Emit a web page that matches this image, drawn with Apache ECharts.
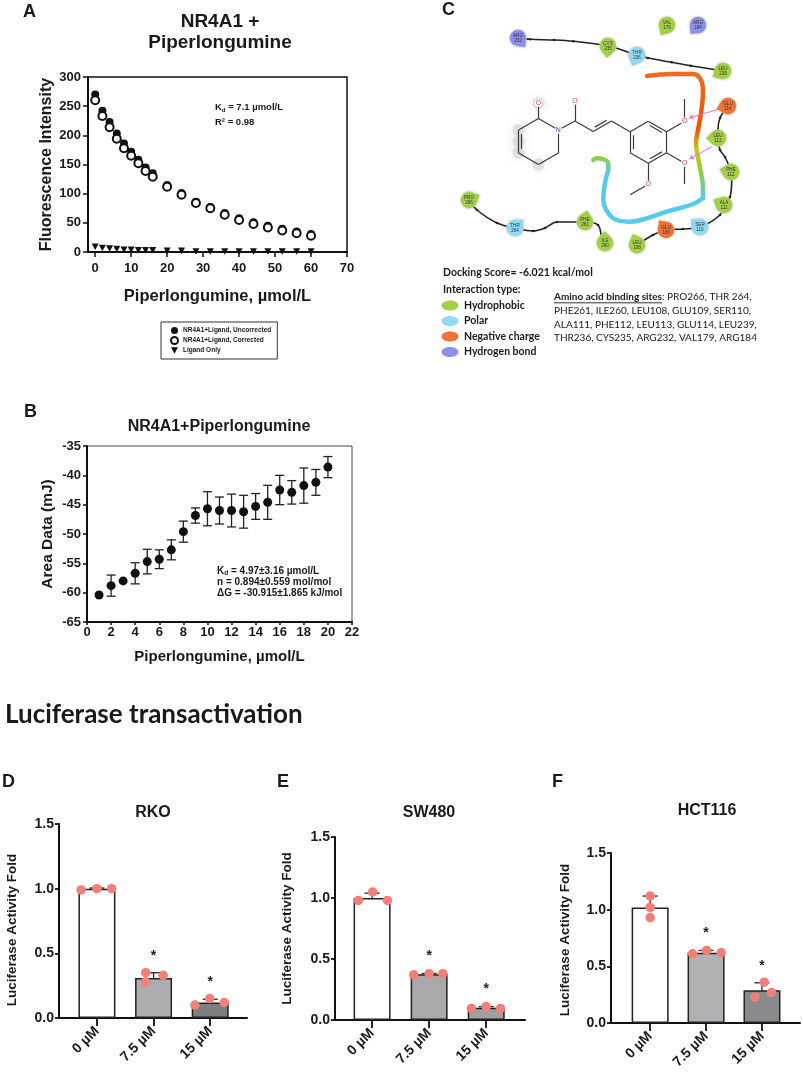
<!DOCTYPE html>
<html>
<head>
<meta charset="utf-8">
<script src="https://cdn.jsdelivr.net/npm/echarts@6/dist/echarts.min.js"></script>
<style>
html, body { margin: 0; padding: 0; background: #fff; }
#main { width: 803px; height: 1073px; }
</style>
</head>
<body>
<div id="main"></div>
<script>
// ---------- panel A: fluorescence quenching ----------
var concA = [0, 2, 4, 6, 8, 10, 12, 14, 16, 20, 24, 28, 32, 36, 40, 44, 48, 52, 56, 60];
var uncorrected = [270, 242, 223, 203, 186, 172, 158, 145, 135, 115, 101, 86, 77, 67, 58, 51, 45, 40, 35, 31];
var corrected = [260, 233, 214, 194, 178, 165, 152, 139, 129, 112, 98, 84, 75, 64, 55, 48, 42, 37, 32, 28];
var ligandOnly = [9, 7, 6, 5, 4, 4, 3, 3, 3, 2, 2, 1, 1, 1, 1, 1, 1, 1, 1, 1];
var ticksAx = [0, 10, 20, 30, 40, 50, 60, 70];

// ---------- panel B: ITC ----------
var concB = [1, 2, 3, 4, 5, 6, 7, 8, 9, 10, 11, 12, 13, 14, 15, 16, 17, 18, 19, 20];
var areaB = [-60.4, -58.8, -58.0, -56.7, -54.7, -54.3, -52.7, -49.6, -46.85, -45.7, -46.0, -46.0, -46.2, -45.3, -44.6, -42.5, -42.9, -41.75, -41.2, -38.6];
var areaSdB = [0, 1.8, 0, 1.8, 2.1, 1.6, 1.7, 1.8, 1.3, 2.9, 2.3, 2.8, 2.8, 2.2, 2.9, 2.5, 2.0, 3.0, 2.2, 1.8];

// ---------- panel C: docking diagram (panel-local units) ----------
var resNames = ['ARG', 'CYS', 'THR', 'LEU', 'VAL', 'ARG', 'GLU', 'LEU', 'PHE', 'ALA', 'SER', 'GLU', 'LEU', 'PHE', 'ILE', 'THR', 'PRO'];
var resNums = [232, 235, 236, 239, 179, 184, 114, 113, 112, 111, 110, 109, 108, 261, 260, 264, 266];
var resTypes = ['hbond', 'hydrophobic', 'polar', 'hydrophobic', 'hydrophobic', 'hbond', 'negative', 'hydrophobic',
  'hydrophobic', 'hydrophobic', 'polar', 'negative', 'hydrophobic', 'hydrophobic', 'hydrophobic', 'polar', 'hydrophobic'];
var resXY = [[118, 38], [208, 46], [237, 55], [323, 71], [267, 25], [298, 25], [328, 106], [318, 138], [331, 172],
  [324, 205], [300, 227], [266, 230], [237, 245], [185, 222], [205, 243], [115, 228], [69, 200]];
var chain1 = [[118, 38], [130, 39.3], [154, 40], [173.3, 41.3], [208, 46], [237, 55], [248, 58], [271.7, 62.3], [290.7, 65.7], [323, 71]];
var chain2 = [[69, 200], [77, 210], [97, 223], [115, 228], [133, 231], [145, 228], [157, 222], [185, 222], [198, 225], [202, 238], [205, 243]];
var chain3 = [[237, 245], [253, 235], [266, 230], [283, 229], [300, 227], [320, 215], [324, 205], [330, 197], [331.7, 180], [331, 172],
  [325, 157], [320, 150], [318, 138], [318, 130], [320, 118], [328, 106]];
var pocketTop = [[247, 76], [270, 74], [293, 74], [301, 80], [303, 92], [301, 113], [298, 130], [296, 143], [298, 157], [301, 173], [303, 187], [303, 198]];
var pocketLow = [[303, 198], [293, 204], [266.7, 211.7], [246.7, 218.3], [230, 221.7], [216.7, 220], [208.3, 213.3], [203.3, 200], [205, 183], [208.3, 170]];
var pocketTail = [[208.3, 170], [208.3, 163.3], [203.3, 159.3], [196.7, 158.3], [193.3, 160]];
var atomXY = {
  O1: [138.5, 103], C2: [138.5, 118.5], N1: [158.4, 130], C6: [158.4, 153], C5: [138.5, 164.5], C4: [118.6, 153], C3: [118.6, 130],
  C7: [175, 121], O2: [175, 101], C8: [193.2, 131.5], C9: [211.4, 121], C10: [230.1, 131.7], C11: [248.3, 121.2], C12: [266.5, 131.7],
  C13: [266.5, 152.7], C14: [248.3, 163.2], C15: [230.1, 152.7], O3: [284.7, 121.2], M3: [284.7, 99], O4: [284.7, 163.2],
  M4: [284.7, 184], O5: [248.3, 184.2], M5: [230.1, 194.7]
};
var ringA = [138.5, 141.5], ringB = [248.3, 142.2];
var bonds = [['C2', 'O1', 1], ['C2', 'N1', 1], ['N1', 'C6', 1], ['C6', 'C5', 1], ['C5', 'C4', 1], ['C4', 'C3', 2, ringA], ['C3', 'C2', 1],
  ['N1', 'C7', 1], ['C7', 'O2', 1], ['C7', 'C8', 1], ['C8', 'C9', 2, [200, 100]], ['C9', 'C10', 1],
  ['C10', 'C11', 1], ['C11', 'C12', 2, ringB], ['C12', 'C13', 1], ['C13', 'C14', 2, ringB], ['C14', 'C15', 1], ['C15', 'C10', 2, ringB],
  ['C12', 'O3', 1], ['O3', 'M3', 1], ['C13', 'O4', 1], ['O4', 'M4', 1], ['C14', 'O5', 1], ['O5', 'M5', 1]];
var heteroAtoms = ['O1', 'O2', 'O3', 'O4', 'O5', 'N1'];
var haloAtoms = [[138.5, 103], [118.6, 130], [118.6, 141.5], [118.6, 153], [138.5, 164.5]];
var hBonds = [[[321.7, 108.3], [289, 118]], [[311.7, 146.7], [289.5, 159]]];
var ligCenter = [200, 140];
var aminoLines = ['PHE261, ILE260, LEU108, GLU109, SER110,', 'ALA111, PHE112, LEU113, GLU114, LEU239,', 'THR236, CYS235, ARG232, VAL179, ARG184'];
var interactionTypes = ['Hydrophobic', 'Polar', 'Negative charge', 'Hydrogen bond'];

// ---------- panels D-F: luciferase ----------
var doses = ['0 µM', '7.5 µM', '15 µM'];
var rkoMean = [1.00, 0.31, 0.12];
var rkoSd = [0.005, 0.04, 0.025];
var rkoReps = [[0.99, 1.00, 1.00], [0.35, 0.28, 0.33], [0.10, 0.15, 0.12]];
var swMean = [1.00, 0.375, 0.10];
var swSd = [0.04, 0.006, 0.01];
var swReps = [[0.98, 1.05, 0.98], [0.37, 0.38, 0.38], [0.095, 0.11, 0.095]];
var hctMean = [1.02, 0.62, 0.29];
var hctSd = [0.10, 0.02, 0.065];
var hctReps = [[1.12, 1.02, 0.93], [0.61, 0.64, 0.62], [0.36, 0.23, 0.27]];
var starred = [false, true, true];

var FONT = '"Liberation Sans", Arial, Helvetica, sans-serif';
var CAL = 'Lato, "Open Sans", sans-serif';
var INK = '#1a1a1a';

var chart = echarts.init(document.getElementById('main'));

function bold(size) {
  return {fontFamily: FONT, fontWeight: 'bold', fontSize: size, color: INK};
}

function errorBars(capW, both) {
  return function (params, api) {
    var x = api.value(0), y = api.value(1), e = api.value(2);
    if (!e) return null;
    var hi = api.coord([x, y + e]), lo = api.coord([x, both ? y - e : y]);
    var st = {stroke: '#222', lineWidth: 1.3};
    var kids = [
      {type: 'line', shape: {x1: hi[0], y1: hi[1], x2: lo[0], y2: lo[1]}, style: st},
      {type: 'line', shape: {x1: hi[0] - capW / 2, y1: hi[1], x2: hi[0] + capW / 2, y2: hi[1]}, style: st}
    ];
    if (both) kids.push({type: 'line', shape: {x1: lo[0] - capW / 2, y1: lo[1], x2: lo[0] + capW / 2, y2: lo[1]}, style: st});
    return {type: 'group', children: kids};
  };
}

function txt(x, y, text, font, align, fill) {
  return {type: 'text', x: x, y: y, z: 20, silent: true,
    style: {text: text, font: font, fill: fill || INK, align: align || 'left', verticalAlign: 'middle'}};
}

var grids = [], xAxes = [], yAxes = [], series = [], graphics = [];

// ===== A =====
grids.push({left: 88, top: 77, width: 259, height: 175, show: true, borderColor: '#111', borderWidth: 1.5});
xAxes.push({gridIndex: 0, type: 'value', min: -2, max: 70,
  axisLine: {onZero: false, lineStyle: {color: '#111', width: 2}},
  axisTick: {customValues: ticksAx, length: 5, lineStyle: {color: '#111', width: 1.5}},
  axisLabel: Object.assign({customValues: ticksAx, margin: 10}, bold(13)),
  splitLine: {show: false},
  name: 'Piperlongumine, µmol/L', nameLocation: 'middle', nameGap: 36, nameTextStyle: bold(16.5)});
yAxes.push({gridIndex: 0, type: 'value', min: 0, max: 300, interval: 50,
  axisLine: {show: true, onZero: false, lineStyle: {color: '#111', width: 2}},
  axisTick: {show: true, length: 5, lineStyle: {color: '#111', width: 1.5}},
  axisLabel: Object.assign({margin: 7}, bold(13)),
  splitLine: {show: false},
  name: 'Fluorescence Intensity', nameLocation: 'middle', nameGap: 33, nameTextStyle: bold(16)});

function pairs(xs, ys) { return xs.map(function (x, i) { return [x, ys[i]]; }); }

series.push({name: 'NR4A1+Ligand, Uncorrected', type: 'scatter', xAxisIndex: 0, yAxisIndex: 0,
  data: pairs(concA, uncorrected), symbol: 'circle', symbolSize: 8, itemStyle: {color: '#111', opacity: 1}, z: 3});
series.push({name: 'NR4A1+Ligand, Corrected', type: 'scatter', xAxisIndex: 0, yAxisIndex: 0,
  data: pairs(concA, corrected), symbol: 'emptyCircle', symbolSize: 8, itemStyle: {color: '#111', borderWidth: 1.6, opacity: 1}, z: 4});
series.push({name: 'Ligand Only', type: 'scatter', xAxisIndex: 0, yAxisIndex: 0,
  data: pairs(concA, ligandOnly), symbol: 'path://M0,0L10,0L5,9Z', symbolSize: [7, 6.5], itemStyle: {color: '#111', opacity: 1}, z: 3});

graphics.push(txt(23, 12, 'A', 'bold 18px ' + FONT));
graphics.push(txt(220, 22, 'NR4A1 +', 'bold 19px ' + FONT, 'center'));
graphics.push(txt(220, 43, 'Piperlongumine', 'bold 19px ' + FONT, 'center'));
var kdRich = {
  m: {fontFamily: FONT, fontWeight: 'bold', fontSize: 9.5, fill: INK, lineHeight: 12},
  s: {fontFamily: FONT, fontWeight: 'bold', fontSize: 6, fill: INK, lineHeight: 12, verticalAlign: 'bottom'}
};
graphics.push({type: 'text', x: 215, y: 107, z: 20, style: {text: '{m|K}{s|d}{m| = 7.1 µmol/L}', rich: kdRich, verticalAlign: 'middle'}});
graphics.push(txt(215, 122, 'R² = 0.98', 'bold 9.5px ' + FONT));

// ===== B =====
grids.push({left: 87, top: 446, width: 265, height: 176, show: true, borderColor: '#444', borderWidth: 1});
xAxes.push({gridIndex: 1, type: 'value', min: 0, max: 22, interval: 2,
  axisLine: {onZero: false, lineStyle: {color: '#111', width: 2}},
  axisTick: {length: 3, lineStyle: {color: '#111', width: 1.5}},
  axisLabel: Object.assign({margin: 4}, bold(13)),
  splitLine: {show: false},
  name: 'Piperlongumine, µmol/L', nameLocation: 'middle', nameGap: 27, nameTextStyle: bold(15)});
yAxes.push({gridIndex: 1, type: 'value', min: -65, max: -35, interval: 5,
  axisLine: {show: true, onZero: false, lineStyle: {color: '#111', width: 2}},
  axisTick: {show: true, length: 4, lineStyle: {color: '#111', width: 1.5}},
  axisLabel: Object.assign({margin: 6}, bold(13)),
  splitLine: {show: false},
  name: 'Area Data (mJ)', nameLocation: 'middle', nameGap: 31, nameTextStyle: bold(15.5)});
series.push({type: 'custom', xAxisIndex: 1, yAxisIndex: 1, z: 3,
  data: concB.map(function (x, i) { return [x, areaB[i], areaSdB[i]]; }),
  encode: {x: 0, y: 1}, renderItem: errorBars(9, true)});
series.push({type: 'scatter', xAxisIndex: 1, yAxisIndex: 1, z: 4, data: pairs(concB, areaB),
  symbol: 'circle', symbolSize: 9, itemStyle: {color: '#111', opacity: 1}});

graphics.push(txt(24, 412, 'B', 'bold 18px ' + FONT));
graphics.push(txt(219, 427, 'NR4A1+Piperlongumine', 'bold 16px ' + FONT, 'center'));
var kdRichB = {
  m: {fontFamily: FONT, fontWeight: 'bold', fontSize: 10, fill: INK, lineHeight: 12},
  s: {fontFamily: FONT, fontWeight: 'bold', fontSize: 6.5, fill: INK, lineHeight: 12, verticalAlign: 'bottom'}
};
graphics.push({type: 'text', x: 217, y: 571, z: 20, style: {text: '{m|K}{s|d}{m| = 4.97±3.16 µmol/L}', rich: kdRichB, verticalAlign: 'middle'}});
graphics.push(txt(217, 582, 'n = 0.894±0.559 mol/mol', 'bold 10px ' + FONT));
graphics.push(txt(217, 593, 'ΔG = -30.915±1.865 kJ/mol', 'bold 10px ' + FONT));

// ===== C =====
grids.push({left: 400, top: 0, width: 403, height: 370});
xAxes.push({gridIndex: 2, type: 'value', min: 0, max: 403, show: false});
yAxes.push({gridIndex: 2, type: 'value', min: 0, max: 370, inverse: true, show: false});

var typeColor = {hydrophobic: '#a3d044', polar: '#92d9f3', negative: '#ef7434', hbond: '#8e8ef0'};
var C = {xAxisIndex: 2, yAxisIndex: 2};

series.push(Object.assign({type: 'scatter', z: 1, silent: true, data: haloAtoms, symbolSize: 12,
  itemStyle: {color: 'rgba(185,185,185,0.35)', opacity: 1, shadowBlur: 8, shadowColor: 'rgba(130,130,130,0.55)'}}, C));

[chain1, chain2, chain3].forEach(function (ch) {
  series.push(Object.assign({type: 'line', z: 2, silent: true, data: ch, smooth: 0.35, symbol: 'circle', symbolSize: 2.6,
    showSymbol: true, itemStyle: {color: '#222'}, lineStyle: {color: '#222', width: 1.6}}, C));
});

series.push(Object.assign({type: 'line', z: 2, silent: true, data: pocketTop, smooth: 0.4, showSymbol: false,
  lineStyle: {width: 4.5, cap: 'round', color: new echarts.graphic.LinearGradient(0, 0, 0, 1, [
    {offset: 0, color: '#f46a1c'}, {offset: 0.45, color: '#f05500'}, {offset: 0.6, color: '#c9c61f'},
    {offset: 0.78, color: '#8fd03a'}, {offset: 1, color: '#57c8ee'}])}}, C));
series.push(Object.assign({type: 'line', z: 2, silent: true, data: pocketLow, smooth: 0.4, showSymbol: false,
  lineStyle: {width: 4.5, cap: 'round', color: '#57c8ee'}}, C));
series.push(Object.assign({type: 'line', z: 2, silent: true, data: pocketTail, smooth: 0.4, showSymbol: false,
  lineStyle: {width: 4.5, cap: 'round', color: new echarts.graphic.LinearGradient(0, 1, 0, 0, [
    {offset: 0, color: '#57c8ee'}, {offset: 1, color: '#98cf2e'}])}}, C));

var bondLines = [];
bonds.forEach(function (b) {
  var p = atomXY[b[0]], q = atomXY[b[1]];
  bondLines.push({coords: [p, q]});
  if (b[2] === 2) {
    var t = b[3];
    var dx = q[0] - p[0], dy = q[1] - p[1], len = Math.sqrt(dx * dx + dy * dy);
    var nx = -dy / len, ny = dx / len;
    var mx = (p[0] + q[0]) / 2, my = (p[1] + q[1]) / 2;
    if ((t[0] - mx) * nx + (t[1] - my) * ny < 0) { nx = -nx; ny = -ny; }
    var off = 3, sh = 0.17;
    bondLines.push({coords: [[p[0] + dx * sh + nx * off, p[1] + dy * sh + ny * off],
      [q[0] - dx * sh + nx * off, q[1] - dy * sh + ny * off]]});
  }
});
series.push(Object.assign({type: 'lines', coordinateSystem: 'cartesian2d', z: 3, silent: true, data: bondLines,
  lineStyle: {color: '#3a3a3a', width: 1.2, opacity: 1}}, C));
series.push(Object.assign({type: 'lines', coordinateSystem: 'cartesian2d', z: 4, silent: true,
  data: hBonds.map(function (h) { return {coords: h}; }), symbol: ['none', 'arrow'], symbolSize: 4.5,
  lineStyle: {color: '#e36cf2', width: 1, opacity: 1}}, C));
series.push(Object.assign({type: 'scatter', z: 5, silent: true, symbolSize: 7.5,
  data: heteroAtoms.map(function (a) {
    return {value: [atomXY[a][0], atomXY[a][1], a.charAt(0)],
      label: {color: a.charAt(0) === 'N' ? '#3b3be6' : '#e6433d'}};
  }),
  itemStyle: {color: '#fff', opacity: 1},
  label: {show: true, position: 'inside', formatter: function (p) { return p.value[2]; }, fontFamily: FONT, fontSize: 7}}, C));

var tear = 'path://M10,0L20,0L20,10A10,10,0,1,1,10,0Z';
series.push(Object.assign({type: 'scatter', z: 6, silent: true, symbol: tear, symbolSize: 17,
  data: resXY.map(function (p, i) {
    var dx = ligCenter[0] - p[0], dy = ligCenter[1] - p[1];
    var rot = Math.atan2(-dy, dx) * 180 / Math.PI - 45;
    return {value: [p[0], p[1], resNames[i] + '\n' + resNums[i]], symbolRotate: rot,
      itemStyle: {color: typeColor[resTypes[i]]}};
  }),
  itemStyle: {opacity: 1, borderColor: 'rgba(255,255,255,0.7)', borderWidth: 0.6, shadowBlur: 2, shadowColor: 'rgba(0,0,0,0.25)'},
  label: {show: true, position: 'inside', formatter: function (p) { return p.value[2]; },
    fontFamily: FONT, fontSize: 4.6, lineHeight: 5.2, color: '#333'}}, C));

graphics.push(txt(442, 10, 'C', 'bold 18px ' + FONT));
graphics.push(txt(443, 273, 'Docking Score= -6.021 kcal/mol', 'bold 10.5px ' + CAL));
graphics.push(txt(443, 290, 'Interaction type:', 'bold 10.5px ' + CAL));
var legendColors = [typeColor.hydrophobic, typeColor.polar, typeColor.negative, typeColor.hbond];
interactionTypes.forEach(function (t, i) {
  var cy = 305.5 + i * 15.5;
  graphics.push({type: 'ellipse', z: 20, silent: true, shape: {cx: 450, cy: cy, rx: 8.5, ry: 5}, style: {fill: legendColors[i]}});
  graphics.push(txt(464, cy, t, 'bold 10.5px ' + CAL));
});
var measure = document.createElement('canvas').getContext('2d');
measure.font = 'bold 10px ' + CAL;
var ulW = measure.measureText('Amino acid binding sites').width;
graphics.push({type: 'text', x: 554, y: 297, z: 20, silent: true, style: {
  text: '{b|Amino acid binding sites}{r|: PRO266, THR 264,}', verticalAlign: 'middle',
  rich: {b: {fontFamily: CAL, fontWeight: 'bold', fontSize: 10, fill: INK},
    r: {fontFamily: CAL, fontSize: 10, fill: INK}}}});
graphics.push({type: 'line', z: 20, silent: true, shape: {x1: 554, y1: 302.8, x2: 554 + ulW, y2: 302.8}, style: {stroke: INK, lineWidth: 0.9}});
aminoLines.forEach(function (l, i) {
  graphics.push(txt(554, 311 + i * 13.6, l, '10px ' + CAL));
});

// ===== luciferase title =====
graphics.push(txt(5, 715, 'Luciferase transactivation', 'bold 26px ' + CAL));

// ===== D, E, F =====
var lucData = [
  {title: 'RKO', mean: rkoMean, sd: rkoSd, reps: rkoReps},
  {title: 'SW480', mean: swMean, sd: swSd, reps: swReps},
  {title: 'HCT116', mean: hctMean, sd: hctSd, reps: hctReps}
];
var lucLayout = [
  {letter: 'D', lx: 2, grid: {left: 59, top: 824, width: 188, height: 194}, xr: [-0.67, 2.65], gap: 40, shift: 18, tx: 153, ty: 813,
    colors: ['#ffffff', '#adadaf', '#7f7f81'], jit: [[-0.28, 0, 0.26], [-0.14, -0.14, 0.17], [-0.27, -0.01, 0.25]]},
  {letter: 'E', lx: 277, grid: {left: 335, top: 837, width: 190, height: 183}, xr: [-0.65, 2.68], gap: 41, shift: 0, tx: 429, ty: 813,
    colors: ['#ffffff', '#a9a9ab', '#a0a0a2'], jit: [[-0.24, 0.01, 0.27], [-0.27, 0, 0.24], [-0.26, 0, 0.25]]},
  {letter: 'F', lx: 552, grid: {left: 611, top: 853, width: 189, height: 170}, xr: [-0.70, 2.68], gap: 39, shift: 4, tx: 707, ty: 811,
    colors: ['#ffffff', '#b1b1b3', '#8a8a8c'], jit: [[0, 0, 0], [-0.24, 0.01, 0.27], [0.04, -0.125, 0.17]]}
];

lucData.forEach(function (d, k) {
  var L = lucLayout[k], gi = 3 + k;
  grids.push(L.grid);
  xAxes.push({gridIndex: gi, type: 'value', min: L.xr[0], max: L.xr[1],
    axisLine: {onZero: false, lineStyle: {color: '#111', width: 2}},
    axisTick: {customValues: [0, 1, 2], length: 8, lineStyle: {color: '#111', width: 1.8}},
    axisLabel: Object.assign({customValues: [0, 1, 2], rotate: 45, margin: 11,
      formatter: function (v) { return doses[Math.round(v)]; }}, bold(14)),
    splitLine: {show: false}});
  yAxes.push({gridIndex: gi, type: 'value', min: 0, max: 1.5, interval: 0.5,
    axisLine: {show: true, onZero: false, lineStyle: {color: '#111', width: 2}},
    axisTick: {show: true, length: 4, lineStyle: {color: '#111', width: 1.8}},
    axisLabel: Object.assign({margin: 5, formatter: function (v) { return v.toFixed(1); }}, bold(14)),
    splitLine: {show: false},
    name: 'Luciferase Activity Fold', nameLocation: 'middle', nameGap: L.gap,
    nameTextStyle: Object.assign({padding: [0, L.shift, 0, 0]}, bold(13.5))});

  series.push({type: 'bar', xAxisIndex: gi, yAxisIndex: gi, barWidth: 37, z: 2,
    data: d.mean.map(function (m, i) {
      return {value: [i, m], itemStyle: {color: L.colors[i]}};
    }),
    itemStyle: {borderColor: '#222', borderWidth: 1.5}});
  series.push({type: 'custom', xAxisIndex: gi, yAxisIndex: gi, z: 3,
    data: d.mean.map(function (m, i) { return [i, m, d.sd[i]]; }),
    encode: {x: 0, y: 1}, renderItem: errorBars(15, false)});
  var dots = [];
  d.reps.forEach(function (r, i) {
    r.forEach(function (v, j) { dots.push([i + L.jit[i][j], v]); });
  });
  series.push({type: 'scatter', xAxisIndex: gi, yAxisIndex: gi, z: 4, data: dots, symbolSize: 9.5,
    itemStyle: {color: '#f47f79', opacity: 1}});
  series.push({type: 'custom', xAxisIndex: gi, yAxisIndex: gi, z: 5,
    data: d.mean.map(function (m, i) { return [i, m + d.sd[i]]; }).filter(function (p, i) { return starred[i]; }),
    encode: {x: 0, y: 1},
    renderItem: function (params, api) {
      var p = api.coord([api.value(0), api.value(1)]);
      return {type: 'text', x: p[0], y: p[1] - 17,
        style: {text: '*', fontFamily: FONT, fontWeight: 'bold', fontSize: 14, fill: '#222', align: 'center', verticalAlign: 'middle'}};
    }});

  graphics.push(txt(L.lx, 782, L.letter, 'bold 18px ' + FONT));
  graphics.push(txt(L.tx, L.ty, d.title, 'bold 16px ' + FONT, 'center'));
});

chart.setOption({
  animation: false,
  backgroundColor: '#fff',
  grid: grids,
  xAxis: xAxes,
  yAxis: yAxes,
  legend: {
    data: ['NR4A1+Ligand, Uncorrected', 'NR4A1+Ligand, Corrected', 'Ligand Only'],
    orient: 'vertical', left: 161, top: 322, itemWidth: 7, itemHeight: 7, itemGap: 2,
    padding: [5, 6, 5, 9], borderColor: '#333', borderWidth: 1, selectedMode: false,
    textStyle: {fontFamily: FONT, fontWeight: 'bold', fontSize: 6.5, color: INK}
  },
  series: series,
  graphic: graphics
});
</script>
</body>
</html>
